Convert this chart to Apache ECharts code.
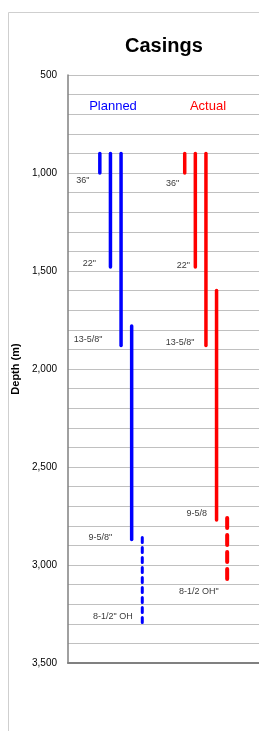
<!DOCTYPE html>
<html lang="en">
<head>
    <meta charset="UTF-8">
    <title>Casings</title>
    <script src="https://cdn.jsdelivr.net/npm/echarts@6/dist/echarts.min.js"></script>
    <style>
        html, body { margin: 0; padding: 0; background: #fff; }
        #main { width: 259px; height: 731px; }
    </style>
</head>
<body>
<div id="main"></div>
<script>
    // casing strings, depth in metres
    const plannedNames = ['36"', '22"', '13-5/8"', '9-5/8"', '8-1/2" OH'];
    const plannedTop = [900, 900, 900, 1780, 2860];
    const plannedBottom = [1000, 1480, 1880, 2870, 3300];

    const actualNames = ['36"', '22"', '13-5/8"', '9-5/8', '8-1/2 OH"'];
    const actualTop = [900, 900, 900, 1600, 2760];
    const actualBottom = [1000, 1480, 1880, 2770, 3080];

    // column number of each string inside its group (last one is open hole)
    const columns = [1, 2, 3, 4, 5];
    const depthTicks = [500, 1000, 1500, 2000, 2500, 3000, 3500];

    const labelFont = 'Arial, sans-serif';

    // label placement next to the shoe of each string
    const plannedLabelOffset = [[-10, 8], [-14, -4], [-18, -6], [-19, -2], [-9, -7]];
    const actualLabelOffset = [[-5, 11], [-5, -2], [-11, -3], [-9, -6], [-8, 11]];

    function buildGroup(names, tops, bottoms, groupStart, color, offsets, ohDash, ohWidth) {
        let out = [];
        for (let i = 0; i < names.length; i++) {
            let x = groupStart + columns[i];
            let openHole = i === names.length - 1;
            out.push({
                type: 'line',
                data: [[x, tops[i]], [x, bottoms[i]]],
                symbol: 'none',
                silent: true,
                lineStyle: {
                    color: color,
                    width: openHole ? ohWidth : 3.5,
                    cap: 'round',
                    type: openHole ? ohDash : 'solid'
                },
                z: 3
            });
            out.push({
                type: 'scatter',
                data: [[x, bottoms[i]]],
                symbolSize: 1,
                itemStyle: {color: 'transparent'},
                silent: true,
                label: {
                    show: true,
                    position: 'left',
                    distance: 0,
                    offset: offsets[i],
                    formatter: names[i],
                    fontFamily: labelFont,
                    fontSize: 9,
                    color: '#000'
                },
                z: 4
            });
        }
        return out;
    }

    let myChart = echarts.init(document.getElementById('main'));

    let option = {
        animation: false,
        title: {
            text: 'Casings',
            left: 120,
            top: 31,
            textStyle: {fontSize: 20, fontWeight: 'bold', color: '#000', fontFamily: 'Arial, sans-serif'}
        },
        grid: {left: 68, right: 0, top: 75, bottom: 68},
        xAxis: {
            type: 'value',
            min: 0,
            max: 18,
            axisLine: {show: true, onZero: false, lineStyle: {color: '#808080', width: 2}},
            axisTick: {show: false},
            axisLabel: {show: false},
            splitLine: {show: false}
        },
        yAxis: {
            type: 'value',
            inverse: true,
            min: 500,
            max: 3500,
            interval: 100,
            name: 'Depth (m)',
            nameLocation: 'middle',
            nameGap: 46,
            nameTextStyle: {fontSize: 11, fontWeight: 'bold', color: '#000', fontFamily: 'Arial, sans-serif'},
            axisLine: {show: true, lineStyle: {color: '#808080', width: 1.5}},
            axisTick: {show: false},
            axisLabel: {
                margin: 11,
                fontSize: 10,
                color: '#000',
                fontFamily: 'Arial, sans-serif',
                formatter: v => depthTicks.indexOf(v) >= 0 ? v.toLocaleString('en-US') : ''
            },
            splitLine: {lineStyle: {color: '#c0c0c0', width: 1.2}}
        },
        graphic: [
            {type: 'line', shape: {x1: 8.5, y1: 12.5, x2: 259, y2: 12.5}, style: {stroke: '#cfcfcf', lineWidth: 1}},
            {type: 'line', shape: {x1: 8.5, y1: 12.5, x2: 8.5, y2: 731}, style: {stroke: '#cfcfcf', lineWidth: 1}},
            {type: 'text', x: 113, y: 106, style: {text: 'Planned', fill: '#0000ff', font: '13px ' + labelFont, align: 'center', verticalAlign: 'middle'}},
            {type: 'text', x: 208, y: 106, style: {text: 'Actual', fill: '#ff0000', font: '13px ' + labelFont, align: 'center', verticalAlign: 'middle'}}
        ],
        series: []
            .concat(buildGroup(plannedNames, plannedTop, plannedBottom, 2, '#0000ff', plannedLabelOffset, [5, 5], 3))
            .concat(buildGroup(actualNames, actualTop, actualBottom, 10, '#ff0000', actualLabelOffset, [10, 7], 4))
    };

    myChart.setOption(option);
</script>
</body>
</html>
